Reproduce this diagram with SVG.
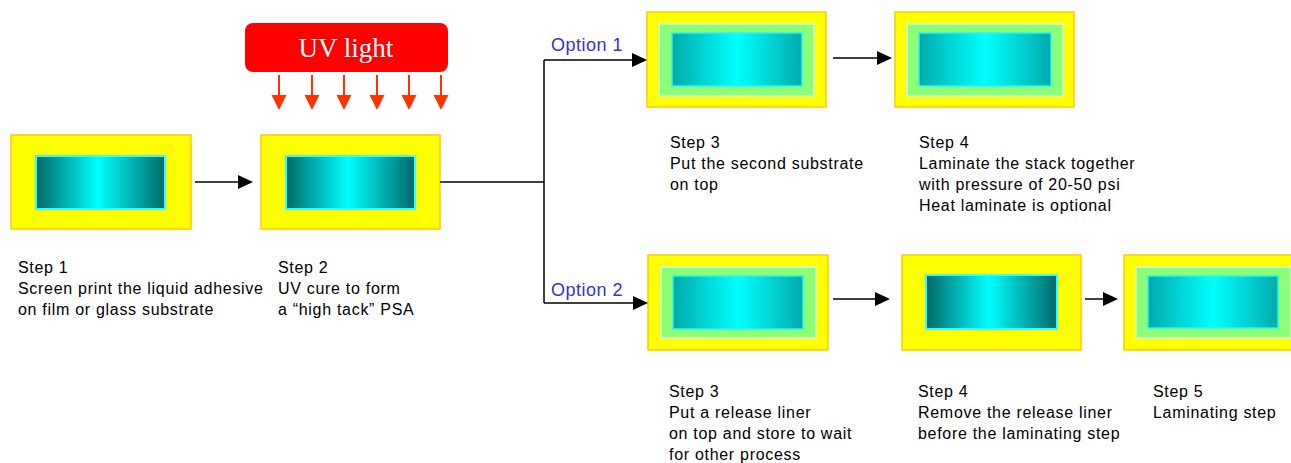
<svg xmlns="http://www.w3.org/2000/svg" width="1291" height="463" viewBox="0 0 1291 463">
<style>
.outer{fill:#FFFF00;stroke:#FFCC00;stroke-width:1.5}
.plain{fill:url(#gPlain);stroke:#33FFFF;stroke-width:2}
.band{fill:#8CFF78;stroke:#D8FFE0;stroke-width:1.5}
.soft{fill:url(#gSoft);stroke:#33F0F0;stroke-width:1.5}
.lbl{font-family:"Liberation Sans",Arial,sans-serif;font-size:16px;letter-spacing:0.7px;fill:#000}
.opt{font-family:"Liberation Sans",Arial,sans-serif;font-size:18px;letter-spacing:0.5px;fill:#3333CC}
.conn{fill:none;stroke:#000;stroke-width:1.5}
.uv{fill:none;stroke:#FF3300;stroke-width:2}
</style>
<defs>
<linearGradient id="gPlain" x1="0" y1="0" x2="1" y2="0">
<stop offset="0" stop-color="#006868"/>
<stop offset="0.48" stop-color="#00FFFF"/>
<stop offset="1" stop-color="#006868"/>
</linearGradient>
<linearGradient id="gSoft" x1="0" y1="0" x2="1" y2="0">
<stop offset="0" stop-color="#00ABAB"/>
<stop offset="0.5" stop-color="#00FFFF"/>
<stop offset="1" stop-color="#00ABAB"/>
</linearGradient>
<marker id="ah" markerUnits="userSpaceOnUse" markerWidth="16" markerHeight="15" refX="3" refY="7" orient="auto">
<path d="M0,0 L15,7 L0,14 z" fill="#000"/>
</marker>
<marker id="rh" markerUnits="userSpaceOnUse" markerWidth="16" markerHeight="16" refX="3" refY="7.5" orient="auto">
<path d="M0,0 L15,7.5 L0,15 z" fill="#FF3300"/>
</marker>
</defs>

<g id="uv-light">
<rect x="245" y="23" width="203" height="49" rx="8" fill="#FF0000"/>
<text x="346" y="57" text-anchor="middle" font-family="'Liberation Serif','Times New Roman',serif" font-size="27" fill="#FFFFFF">UV light</text>
<line class="uv" x1="279" y1="75" x2="279" y2="98" marker-end="url(#rh)"/>
<line class="uv" x1="312" y1="75" x2="312" y2="98" marker-end="url(#rh)"/>
<line class="uv" x1="344" y1="75" x2="344" y2="98" marker-end="url(#rh)"/>
<line class="uv" x1="377" y1="75" x2="377" y2="98" marker-end="url(#rh)"/>
<line class="uv" x1="409" y1="75" x2="409" y2="98" marker-end="url(#rh)"/>
<line class="uv" x1="441" y1="75" x2="441" y2="98" marker-end="url(#rh)"/>
</g>

<g id="step1">
<rect class="outer" x="11" y="135" width="180" height="94"/>
<rect class="plain" x="36" y="156" width="129" height="53"/>
<text class="lbl" x="18" y="273">Step 1</text>
<text class="lbl" x="18" y="294">Screen print the liquid adhesive</text>
<text class="lbl" x="18" y="315">on film or glass substrate</text>
</g>

<g id="step2">
<rect class="outer" x="261" y="135" width="179" height="94"/>
<rect class="plain" x="286" y="156" width="129" height="53"/>
<text class="lbl" x="278" y="273">Step 2</text>
<text class="lbl" x="278" y="294">UV cure to form</text>
<text class="lbl" x="278" y="315">a “high tack” PSA</text>
</g>

<g id="opt1-step3">
<rect class="outer" x="647" y="12" width="179" height="95"/>
<rect class="band" x="659" y="24" width="155" height="72"/>
<rect class="soft" x="672" y="33" width="130" height="53"/>
<text class="lbl" x="670" y="148">Step 3</text>
<text class="lbl" x="670" y="169">Put the second substrate</text>
<text class="lbl" x="670" y="190">on top</text>
</g>

<g id="opt1-step4">
<rect class="outer" x="895" y="12" width="179" height="95"/>
<rect class="band" x="907" y="24" width="156" height="72"/>
<rect class="soft" x="919" y="33" width="132" height="53"/>
<text class="lbl" x="919" y="148">Step 4</text>
<text class="lbl" x="919" y="169">Laminate the stack together</text>
<text class="lbl" x="919" y="190">with pressure of 20-50 psi</text>
<text class="lbl" x="919" y="211">Heat laminate is optional</text>
</g>

<g id="opt2-step3">
<rect class="outer" x="648" y="255" width="180" height="95"/>
<rect class="band" x="661" y="267" width="155" height="71"/>
<rect class="soft" x="673" y="276" width="130" height="53"/>
<text class="lbl" x="669" y="397">Step 3</text>
<text class="lbl" x="669" y="418">Put a release liner</text>
<text class="lbl" x="669" y="439">on top and store to wait</text>
<text class="lbl" x="669" y="460">for other process</text>
</g>

<g id="opt2-step4">
<rect class="outer" x="902" y="255" width="179" height="95"/>
<rect class="plain" x="926" y="275" width="131" height="54"/>
<text class="lbl" x="918" y="397">Step 4</text>
<text class="lbl" x="918" y="418">Remove the release liner</text>
<text class="lbl" x="918" y="439">before the laminating step</text>
</g>

<g id="opt2-step5">
<rect class="outer" x="1124" y="255" width="180" height="95"/>
<rect class="band" x="1136" y="267" width="155" height="71"/>
<rect class="soft" x="1148" y="276" width="130" height="52"/>
<text class="lbl" x="1153" y="397">Step 5</text>
<text class="lbl" x="1153" y="418">Laminating step</text>
</g>

<g id="connectors">
<line class="conn" x1="195" y1="182" x2="241" y2="182" marker-end="url(#ah)"/>
<path class="conn" d="M440,182 H544"/>
<path class="conn" d="M544,60 V303"/>
<path class="conn" d="M544,60 H635" marker-end="url(#ah)"/>
<path class="conn" d="M544,303 H636" marker-end="url(#ah)"/>
<line class="conn" x1="833" y1="58" x2="880" y2="58" marker-end="url(#ah)"/>
<line class="conn" x1="833" y1="299" x2="878" y2="299" marker-end="url(#ah)"/>
<line class="conn" x1="1085" y1="299" x2="1106" y2="299" marker-end="url(#ah)"/>
<text class="opt" x="551" y="51">Option 1</text>
<text class="opt" x="551" y="296">Option 2</text>
</g>
</svg>
